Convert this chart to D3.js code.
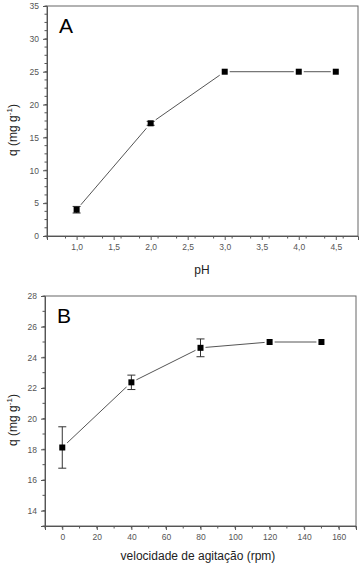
<!DOCTYPE html>
<html>
<head>
<meta charset="utf-8">
<script src="https://cdn.jsdelivr.net/npm/d3@7"></script>
<style>
  body { margin: 0; background: #fff; }
  svg { display: block; font-family: "Liberation Sans", Arial, sans-serif; }
</style>
</head>
<body>
<svg id="chart" width="361" height="567"></svg>
<script>
// panel A: q vs pH
var phValues = [1.0, 2.0, 3.0, 4.0, 4.5];
var phQ = [4.0, 17.15, 25.0, 25.0, 25.0];
var phErr = [0.5, 0.3, 0, 0, 0];
var phTicks = [1.0, 1.5, 2.0, 2.5, 3.0, 3.5, 4.0, 4.5];
var phQTicks = [0, 5, 10, 15, 20, 25, 30, 35];

// panel B: q vs agitation speed
var rpmValues = [0, 40, 80, 120, 150];
var rpmQ = [18.12, 22.37, 24.62, 25.0, 25.0];
var rpmErr = [1.35, 0.47, 0.58, 0, 0];
var rpmTicks = [0, 20, 40, 60, 80, 100, 120, 140, 160];
var rpmQTicks = [14, 16, 18, 20, 22, 24, 26, 28];

var svg = d3.select("#chart");
var comma = function(d){ return d3.format(".1f")(d).replace(".", ","); };

function drawPanel(opt) {
    var x = d3.scaleLinear().domain(opt.xDomain).range([opt.left, opt.right]);
    var y = d3.scaleLinear().domain(opt.yDomain).range([opt.bottom, opt.top]);
    var g = svg.append("g");

    // frame
    g.append("rect")
        .attr("x", opt.left).attr("y", opt.top)
        .attr("width", opt.right - opt.left).attr("height", opt.bottom - opt.top)
        .attr("fill", "none").attr("stroke", "#666").attr("stroke-width", 1);

    // minor ticks
    var xMinor = d3.range(opt.xDomain[0], opt.xDomain[1] + 1e-9, opt.xMinor);
    g.selectAll(".xm").data(xMinor).enter().append("line")
        .attr("x1", d => x(d)).attr("x2", d => x(d))
        .attr("y1", opt.bottom).attr("y2", opt.bottom + 2.5)
        .attr("stroke", "#555");
    var yMinor = d3.range(opt.yDomain[0], opt.yDomain[1] + 1e-9, opt.yMinor);
    g.selectAll(".ym").data(yMinor).enter().append("line")
        .attr("y1", d => y(d)).attr("y2", d => y(d))
        .attr("x1", opt.left).attr("x2", opt.left - 2.5)
        .attr("stroke", "#555");

    // axes
    var xAxis = g.append("g").attr("transform", "translate(0," + opt.bottom + ")")
        .call(d3.axisBottom(x).tickValues(opt.xTicks).tickSize(4).tickPadding(4).tickFormat(opt.xFormat));
    var yAxis = g.append("g").attr("transform", "translate(" + opt.left + ",0)")
        .call(d3.axisLeft(y).tickValues(opt.yTicks).tickSize(4).tickPadding(4));
    [xAxis, yAxis].forEach(function(a){
        a.select(".domain").attr("stroke", "#555");
        a.selectAll(".tick line").attr("stroke", "#555");
        a.selectAll("text").attr("fill", "#555").style("font-size", "8.5px");
    });

    var pts = opt.xs.map(function(v, i){ return {x: v, y: opt.ys[i], e: opt.errs[i]}; });

    // connecting line
    g.append("path").datum(pts)
        .attr("fill", "none").attr("stroke", "#555").attr("stroke-width", 1)
        .attr("d", d3.line().x(d => x(d.x)).y(d => y(d.y)));

    // gap round the markers
    g.selectAll(".gap").data(pts).enter().append("rect")
        .attr("x", d => x(d.x) - 5).attr("y", d => y(d.y) - 5)
        .attr("width", 10).attr("height", 10).attr("fill", "#fff");

    // error bars
    var eb = g.selectAll(".err").data(pts.filter(d => d.e > 0)).enter().append("g")
        .attr("stroke", "#333").attr("stroke-width", 1);
    eb.append("line").attr("x1", d => x(d.x)).attr("x2", d => x(d.x))
        .attr("y1", d => y(d.y - d.e)).attr("y2", d => y(d.y + d.e));
    eb.append("line").attr("x1", d => x(d.x) - 4).attr("x2", d => x(d.x) + 4)
        .attr("y1", d => y(d.y - d.e)).attr("y2", d => y(d.y - d.e));
    eb.append("line").attr("x1", d => x(d.x) - 4).attr("x2", d => x(d.x) + 4)
        .attr("y1", d => y(d.y + d.e)).attr("y2", d => y(d.y + d.e));

    // markers
    g.selectAll(".mk").data(pts).enter().append("rect")
        .attr("x", d => x(d.x) - 3).attr("y", d => y(d.y) - 3)
        .attr("width", 6).attr("height", 6).attr("fill", "#000");

    // panel letter
    g.append("text").attr("x", opt.left + 12).attr("y", opt.top + 27)
        .style("font-size", "21px").attr("fill", "#000").text(opt.letter);

    // axis titles
    g.append("text").attr("x", opt.xLabelX).attr("y", opt.xLabelY)
        .attr("text-anchor", "middle").style("font-size", "12px").attr("fill", "#222")
        .text(opt.xLabel);
    var yl = g.append("text")
        .attr("transform", "translate(17," + opt.yLabelY + ") rotate(-90)")
        .attr("text-anchor", "middle").style("font-size", "12px").attr("fill", "#222");
    yl.append("tspan").text("q (mg g");
    yl.append("tspan").attr("dy", -5).style("font-size", "8px").text("-1");
    yl.append("tspan").attr("dy", 5).text(")");
}

drawPanel({
    xs: phValues, ys: phQ, errs: phErr,
    xDomain: [0.6, 4.8], yDomain: [0, 35],
    left: 47, right: 358, top: 6, bottom: 236,
    xTicks: phTicks, yTicks: phQTicks, xMinor: 0.25, yMinor: 1.25,
    xFormat: comma, letter: "A",
    xLabel: "pH", xLabelX: 202, xLabelY: 274, yLabelY: 130
});

drawPanel({
    xs: rpmValues, ys: rpmQ, errs: rpmErr,
    xDomain: [-10, 170], yDomain: [13, 28],
    left: 45, right: 356, top: 296, bottom: 526,
    xTicks: rpmTicks, yTicks: rpmQTicks, xMinor: 10, yMinor: 1,
    xFormat: d3.format("d"), letter: "B",
    xLabel: "velocidade de agitação (rpm)", xLabelX: 198, xLabelY: 560, yLabelY: 420
});
</script>
</body>
</html>
